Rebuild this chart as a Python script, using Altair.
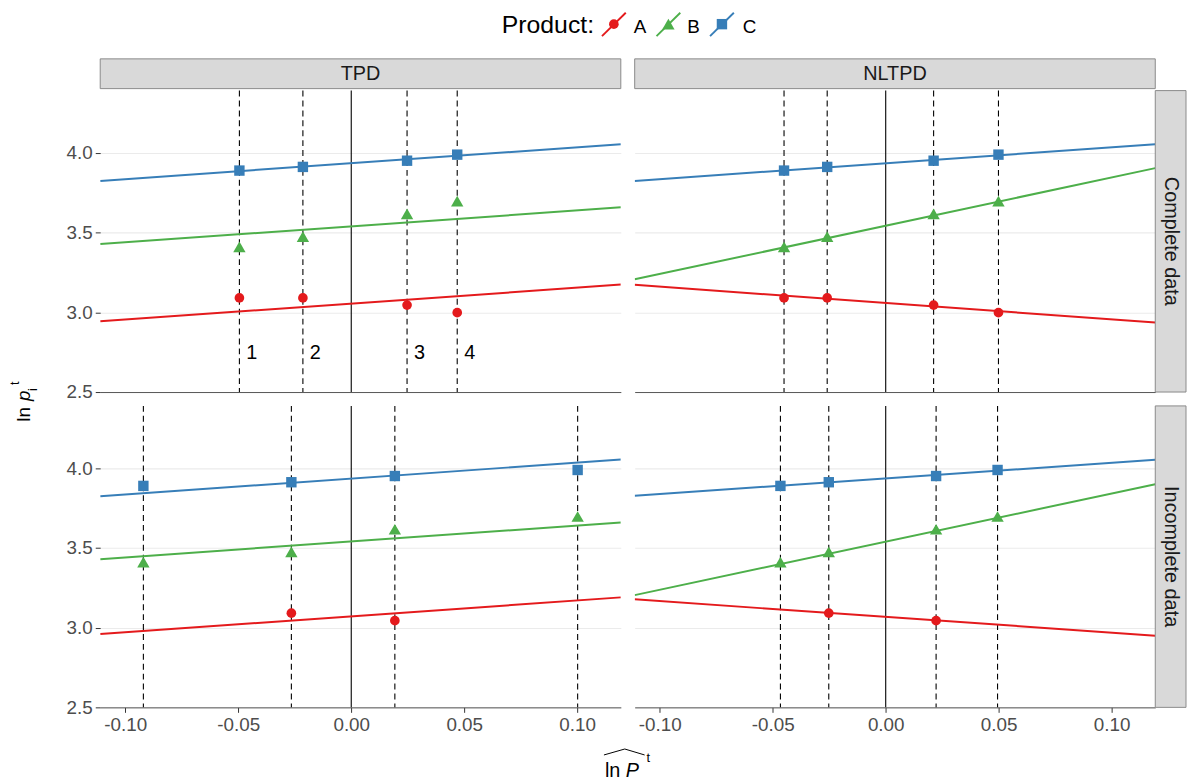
import altair as alt
import pandas as pd

FONT = "Liberation Sans"

# ---------------- data ----------------
products = ["A", "B", "C"]
product_colors = ["#E41A1C", "#4DAF4A", "#377EB8"]
product_shapes = ["circle", "triangle-up", "square"]
methods = ["TPD", "NLTPD"]
datasets = ["Complete data", "Incomplete data"]
period_labels = ["1", "2", "3", "4"]

# estimated log price index (ln P-hat) of each period, per panel
lnP_tpd_complete = [-0.0495, -0.0214, 0.0247, 0.0469]
lnP_nltpd_complete = [-0.0450, -0.0259, 0.0212, 0.0499]
lnP_tpd_incomplete = [-0.0920, -0.0265, 0.0193, 0.1002]
lnP_nltpd_incomplete = [-0.0466, -0.0252, 0.0223, 0.0495]

# observed log prices per product and period
lnp_A = [3.091, 3.091, 3.046, 2.998]
lnp_B = [3.411, 3.476, 3.618, 3.698]
lnp_C = [3.890, 3.913, 3.952, 3.990]
lnp_A_incomplete = [None, 3.091, 3.044, None]

# fitted lines (intercept, slope) for products A, B, C
icpt_tpd_complete = [3.055, 3.540, 3.936]
icpt_tpd_incomplete = [3.071, 3.541, 3.936]
slope_tpd = [1.0, 1.0, 1.0]
icpt_nltpd_complete = [3.059, 3.544, 3.936]
slope_nltpd_complete = [-1.03, 3.03, 1.0]
icpt_nltpd_incomplete = [3.068, 3.540, 3.937]
slope_nltpd_incomplete = [-0.99, 3.02, 0.98]

period_label_y = 2.745
x_ticks = [-0.10, -0.05, 0.0, 0.05, 0.10]
y_ticks = [2.5, 3.0, 3.5, 4.0]
x_domain = [-0.1111, 0.1193]
y_domain = [2.5, 4.392]

# ---------------- layout / style ----------------
W, H = 525, 304
TOP = -79          # top of the legend area, relative to the top-left panel
TICK_FS = 19
STRIP_FS = 20
LABEL_COLOR = "#4d4d4d"
symbol_sizes = [95, 155, 110]

xscale = alt.Scale(domain=x_domain, nice=False, zero=False)
yscale = alt.Scale(domain=y_domain, nice=False, zero=False)
cscale = alt.Scale(domain=products, range=product_colors)
sscale = alt.Scale(domain=products, range=product_shapes)
zscale = alt.Scale(type="ordinal", domain=products, range=symbol_sizes)

one = pd.DataFrame({"k": [0]})


def x_axis(show):
    common = dict(title=None, grid=False, domain=True, domainColor="#555555", domainWidth=1)
    if show:
        return alt.Axis(values=x_ticks,
                        labelExpr="replace(format(datum.value, '.2f'), '\u2212', '-')",
                        labelFont=FONT, labelFontSize=TICK_FS, labelColor=LABEL_COLOR,
                        ticks=True, tickSize=5, tickColor="#333333", tickWidth=1,
                        labelPadding=3, labelFlush=False, labelOverlap=False,
                        minExtent=30, maxExtent=30, **common)
    return alt.Axis(labels=False, ticks=False, minExtent=0, maxExtent=0, **common)


def y_axis(show):
    common = dict(title=None, values=y_ticks, grid=True, gridColor="#ebebeb",
                  gridWidth=1.1, domain=False)
    if show:
        return alt.Axis(format=".1f", labelFont=FONT, labelFontSize=TICK_FS,
                        labelColor=LABEL_COLOR, ticks=True, tickSize=5,
                        tickColor="#333333", tickWidth=1, labelPadding=3,
                        minExtent=35, maxExtent=35, **common)
    return alt.Axis(labels=False, ticks=False, minExtent=0, maxExtent=0, **common)


def txt(text, x, y, size, angle=0, italic=False, align="left", baseline="alphabetic"):
    kw = dict(text=text, font=FONT, fontSize=size, color="black", align=align,
              baseline=baseline, angle=angle)
    if italic:
        kw["fontStyle"] = "italic"
    return alt.Chart(one).mark_text(**kw).encode(x=alt.value(x), y=alt.value(y))


def spacer(y):
    # invisible mark so every column/row shares the same top extent
    return alt.Chart(one).mark_rule(opacity=0, strokeWidth=1).encode(
        x=alt.value(0), x2=alt.value(1), y=alt.value(y), y2=alt.value(y))


def legend_layers():
    key_x = [518, 573, 627]
    label_x = [538, 592, 648]
    out = [txt("Product:", 405, TOP + 1, 25, baseline="top")]
    for p, c, s, z, kx, lx in zip(products, product_colors, product_shapes,
                                  symbol_sizes, key_x, label_x):
        out.append(alt.Chart(one).mark_rule(color=c, strokeWidth=1.9).encode(
            x=alt.value(kx - 12), y=alt.value(TOP + 24), x2=alt.value(kx + 12),
            y2=alt.value(TOP + 0.5)))
        out.append(alt.Chart(one).mark_point(filled=True, size=z, opacity=1,
                                             color=c, shape=s).encode(
            x=alt.value(kx), y=alt.value(TOP + 12)))
        out.append(txt(p, lx, TOP + 5.5, 19, baseline="top"))
    return out


def panel(method, dataset, lnP, series, icpts, slopes, show_x, show_y,
          top_strip, right_strip, numbered, with_legend):
    X = alt.X("x:Q", scale=xscale, axis=x_axis(show_x))
    Y = alt.Y("y:Q", scale=yscale, axis=y_axis(show_y))
    C = alt.Color("product:N", scale=cscale, legend=None)
    S = alt.Shape("product:N", scale=sscale, legend=None)
    Z = alt.Size("product:N", scale=zscale, legend=None)

    pts = pd.DataFrame([{"product": p, "x": x, "y": v}
                        for p, vals in zip(products, series)
                        for x, v in zip(lnP, vals) if v is not None])
    fit = pd.DataFrame([{"product": p, "x": xe, "y": b + m * xe}
                        for p, b, m in zip(products, icpts, slopes)
                        for xe in x_domain])
    per = pd.DataFrame({"x": lnP, "label": period_labels,
                        "y": [period_label_y] * len(lnP)})
    zero = pd.DataFrame({"x": [0.0]})

    layers = [
        alt.Chart(zero).mark_rule(color="black", strokeWidth=1.1).encode(x=X),
        alt.Chart(per).mark_rule(color="black", strokeWidth=1.1,
                                 strokeDash=[6, 4]).encode(x=X),
        alt.Chart(fit).mark_line(strokeWidth=2, clip=True).encode(x=X, y=Y, color=C),
        alt.Chart(pts).mark_point(filled=True, opacity=1).encode(
            x=X, y=Y, color=C, shape=S, size=Z),
    ]
    if numbered:
        layers.append(alt.Chart(per).mark_text(
            align="left", baseline="middle", dx=7, font=FONT, fontSize=20,
            color="black").encode(x=X, y=Y, text="label:N"))
    if top_strip:
        sd = pd.DataFrame({"label": [method]})
        layers.append(alt.Chart(sd).mark_rect(fill="#d9d9d9", stroke="#8a8a8a",
                                              strokeWidth=1).encode(
            x=alt.value(0), x2=alt.value(W), y=alt.value(-32), y2=alt.value(-2)))
        layers.append(alt.Chart(sd).mark_text(font=FONT, fontSize=STRIP_FS,
                                              color="#1a1a1a", baseline="middle",
                                              align="center").encode(
            x=alt.value(W / 2), y=alt.value(-17), text="label:N"))
        if with_legend:
            layers.extend(legend_layers())
        else:
            layers.append(spacer(TOP))
    if right_strip:
        sd = pd.DataFrame({"label": [dataset]})
        layers.append(alt.Chart(sd).mark_rect(fill="#d9d9d9", stroke="#8a8a8a",
                                              strokeWidth=1).encode(
            x=alt.value(W), x2=alt.value(W + 31), y=alt.value(0), y2=alt.value(H)))
        layers.append(alt.Chart(sd).mark_text(font=FONT, fontSize=STRIP_FS,
                                              color="#1a1a1a", baseline="middle",
                                              align="center", angle=90).encode(
            x=alt.value(W + 15.5), y=alt.value(H / 2), text="label:N"))
    return alt.layer(*layers).properties(width=W, height=H)


TL = panel(methods[0], datasets[0], lnP_tpd_complete, [lnp_A, lnp_B, lnp_C],
           icpt_tpd_complete, slope_tpd, False, True, True, False, True, True)
TR = panel(methods[1], datasets[0], lnP_nltpd_complete, [lnp_A, lnp_B, lnp_C],
           icpt_nltpd_complete, slope_nltpd_complete, False, False, True, True, False, False)
BL = panel(methods[0], datasets[1], lnP_tpd_incomplete, [lnp_A_incomplete, lnp_B, lnp_C],
           icpt_tpd_incomplete, slope_tpd, True, True, False, False, False, False)
BR = panel(methods[1], datasets[1], lnP_nltpd_incomplete, [lnp_A_incomplete, lnp_B, lnp_C],
           icpt_nltpd_incomplete, slope_nltpd_incomplete, True, False, False, True, False, False)

grid = alt.concat(TL, TR, BL, BR, columns=2, spacing=14, bounds="flush")

# y-axis title: ln p_i^t (positions relative to the top-left panel's top)
ytitle = alt.layer(
    spacer(TOP),
    txt("ln", 20, 334, 19, angle=270),
    txt("p", 20, 313, 19, angle=270, italic=True),
    txt("i", 27, 303, 13, angle=270),
    txt("t", 9, 297, 13, angle=270),
).properties(width=45, height=600)

# x-axis title: widehat(ln P)^t
hat = [(508, 9, 529, 3), (529, 3, 549, 9)]
xtitle_layers = [
    txt("ln", 509, 31, 20),
    txt("P", 530, 31, 20, italic=True),
    txt("t", 551, 16, 13),
]
for (x1, y1, x2, y2) in hat:
    xtitle_layers.append(alt.Chart(one).mark_rule(color="black", strokeWidth=1).encode(
        x=alt.value(x1), y=alt.value(y1), x2=alt.value(x2), y2=alt.value(y2)))
xtitle = alt.layer(*xtitle_layers).properties(width=600, height=30)

right = alt.vconcat(grid, xtitle, spacing=7)
chart = alt.hconcat(ytitle, right, spacing=9).properties(
    padding=0
).configure_view(stroke="transparent")

chart.save("out.html", embed_options={"renderer": "svg", "actions": False})
